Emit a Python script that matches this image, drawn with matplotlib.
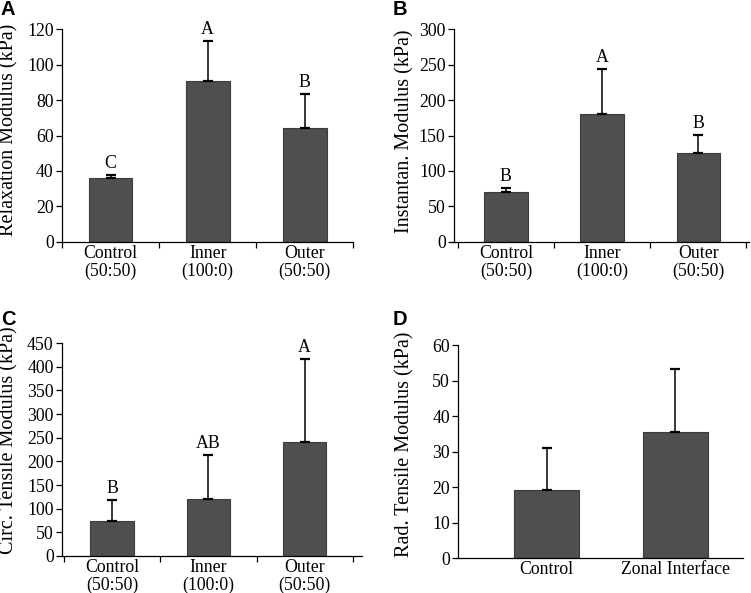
import matplotlib.pyplot as plt
from matplotlib.transforms import blended_transform_factory

plt.rcParams['font.family'] = ['Liberation Serif', 'DejaVu Serif']

# panel A - relaxation modulus
cats_abc = ['Control\n(50:50)', 'Inner\n(100:0)', 'Outer\n(50:50)']
relax_mean = [36, 91, 64]
relax_err = [2, 22.5, 19.5]
relax_sig = ['C', 'A', 'B']

# panel B - instantaneous modulus
inst_mean = [70, 180, 126]
inst_err = [6.5, 63.5, 25]
inst_sig = ['B', 'A', 'B']

# panel C - circumferential tensile modulus
circ_mean = [75, 120, 242]
circ_err = [43, 93, 175]
circ_sig = ['B', 'AB', 'A']

# panel D - radial tensile modulus
cats_d = ['Control', 'Zonal Interface']
rad_mean = [19.3, 35.4]
rad_err = [11.8, 17.8]

BAR = '#4f4f4f'
EDGE = '#3c3c3c'
FS = 12.8


def style_axes(ax):
    ax.spines['top'].set_visible(False)
    ax.spines['right'].set_visible(False)
    ax.spines['left'].set_linewidth(0.9)
    ax.spines['bottom'].set_linewidth(0.9)
    ax.tick_params(axis='y', direction='out', length=4, width=0.9, labelsize=FS, pad=2)
    ax.tick_params(axis='x', which='major', length=0, labelsize=FS, pad=2)
    ax.tick_params(axis='x', which='minor', direction='out', length=4, width=0.9)


def bar_panel(rect, letter, letter_xy, cats, means, errs, sig, ymax, ystep, ylabel,
              label_xy, xlim, width, minor_ticks=True):
    ax = fig.add_axes(rect)
    x = list(range(len(cats)))
    ax.bar(x, means, width=width, color=BAR, edgecolor=EDGE, linewidth=0.8, zorder=2)
    ax.errorbar(x, means, yerr=[[0] * len(errs), errs], fmt='none', ecolor='black',
                elinewidth=1.1, capsize=3.5, capthick=1.6, zorder=3)
    if sig:
        for xi, m, e, s in zip(x, means, errs, sig):
            ax.annotate(s, (xi, m + e), xytext=(0, 2), textcoords='offset points',
                        ha='center', va='bottom', fontsize=FS)
    ax.set_xlim(*xlim)
    ax.set_ylim(0, ymax)
    ax.set_yticks(range(0, ymax + 1, ystep))
    ax.set_xticks(x)
    ax.set_xticklabels(cats, linespacing=1.1)
    if minor_ticks:
        ax.set_xticks([i - 0.5 for i in range(len(cats) + 1)], minor=True)
    ax.set_ylabel(ylabel, fontsize=14.5)
    # label x in figure fraction, y in axes fraction
    ax.yaxis.set_label_coords(label_xy[0], label_xy[1],
                              transform=blended_transform_factory(fig.transFigure, ax.transAxes))
    style_axes(ax)
    fig.text(letter_xy[0], letter_xy[1], letter,
             family=['Liberation Sans', 'DejaVu Sans'], fontweight='bold',
             fontsize=14.5, ha='left', va='center')
    return ax


fig = plt.figure(figsize=(7.51, 5.93), dpi=100)

bar_panel([0.0826, 0.592, 0.388, 0.359], 'A', (0.001, 0.984), cats_abc, relax_mean,
          relax_err, relax_sig, 120, 20, 'Relaxation Modulus (kPa)', (0.025, 0.526),
          (-0.5, 2.5), 0.45)
bar_panel([0.6045, 0.592, 0.393, 0.359], 'B', (0.523, 0.984), cats_abc, inst_mean,
          inst_err, inst_sig, 300, 50, 'Instantan. Modulus (kPa)', (0.552, 0.519),
          (-0.54, 2.53), 0.45)
bar_panel([0.0826, 0.0624, 0.400, 0.359], 'C', (0.001, 0.462), cats_abc, circ_mean,
          circ_err, circ_sig, 450, 50, 'Circ. Tensile Modulus (kPa)', (0.025, 0.545),
          (-0.52, 2.6), 0.45)
bar_panel([0.610, 0.059, 0.379, 0.359], 'D', (0.523, 0.461), cats_d, rad_mean, rad_err,
          None, 60, 10, 'Rad. Tensile Modulus (kPa)', (0.552, 0.533),
          (-0.686, 1.523), 0.504, minor_ticks=False)

fig.savefig('out.png', dpi=100)
